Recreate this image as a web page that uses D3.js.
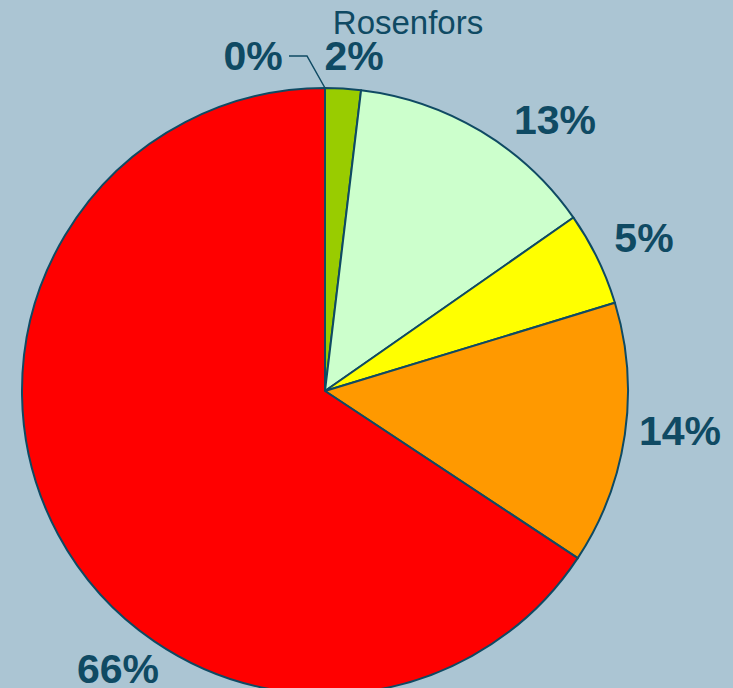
<!DOCTYPE html>
<html><head><meta charset="utf-8">
<script src="https://cdn.jsdelivr.net/npm/d3@7"></script>
<style>html,body{margin:0;padding:0;background:#abc5d3;overflow:hidden}</style>
</head><body>
<svg id="c" width="733" height="688"></svg>
<script>
const title = "Rosenfors";
const categories = ["Klass 0", "Klass 1", "Klass 2", "Klass 3", "Klass 4", "Klass 5"];
const values = [0.0, 1.9, 13.4, 5.0, 14.0, 65.7];
const colors = ["#ffffff", "#99cc00", "#ccffcc", "#ffff00", "#ff9900", "#ff0000"];
// layout: label offsets from pie centre (px)
const labelOffsets = [[-72, -321], [29, -321], [230, -257], [319, -139], [355, 54], [-207, 292]];

const W = 733, H = 688, cx = 325, cy = 391, R = 303;
const ink = "#0f4a63";
const svg = d3.select("#c");
svg.append("rect").attr("width", W).attr("height", H).attr("fill", "#abc5d3");

const data = categories.map((c, i) => ({cat: c, v: values[i], color: colors[i], i}));
const pie = d3.pie().value(d => d.v).sort(null);
const arcs = pie(data);
const arc = d3.arc().innerRadius(0).outerRadius(R);
const g = svg.append("g").attr("transform", `translate(${cx},${cy})`);
g.selectAll("path").data(arcs.filter(d => d.data.v > 0)).join("path")
  .attr("d", arc).attr("fill", d => d.data.color)
  .attr("stroke", ink).attr("stroke-width", 2).attr("stroke-linejoin", "round");

const total = d3.sum(values);
const fmt = v => Math.round(v / total * 100) + "%";
g.selectAll("text.lbl").data(arcs).join("text").attr("class", "lbl")
  .attr("x", (d, i) => labelOffsets[i][0]).attr("y", (d, i) => labelOffsets[i][1])
  .attr("text-anchor", "middle")
  .attr("font-family", "Liberation Sans, Arial, sans-serif")
  .attr("font-weight", "bold").attr("font-size", 41).attr("fill", ink)
  .text(d => fmt(d.data.v));

// leader line for the tiny first slice
const a0 = arcs[0];
const mid = (a0.startAngle + a0.endAngle) / 2;
const ex = Math.sin(mid) * R, ey = -Math.cos(mid) * R;
const lx = labelOffsets[0][0] + 36, ly = labelOffsets[0][1] - 14;
g.append("polyline")
  .attr("points", `${lx},${ly} ${lx + 18},${ly} ${ex},${ey}`)
  .attr("fill", "none").attr("stroke", ink).attr("stroke-width", 1.5);

svg.append("text").attr("x", 408).attr("y", 34).attr("text-anchor", "middle")
  .attr("font-family", "Liberation Sans, Arial, sans-serif")
  .attr("font-size", 33).attr("fill", ink).text(title);
</script>
</body></html>
